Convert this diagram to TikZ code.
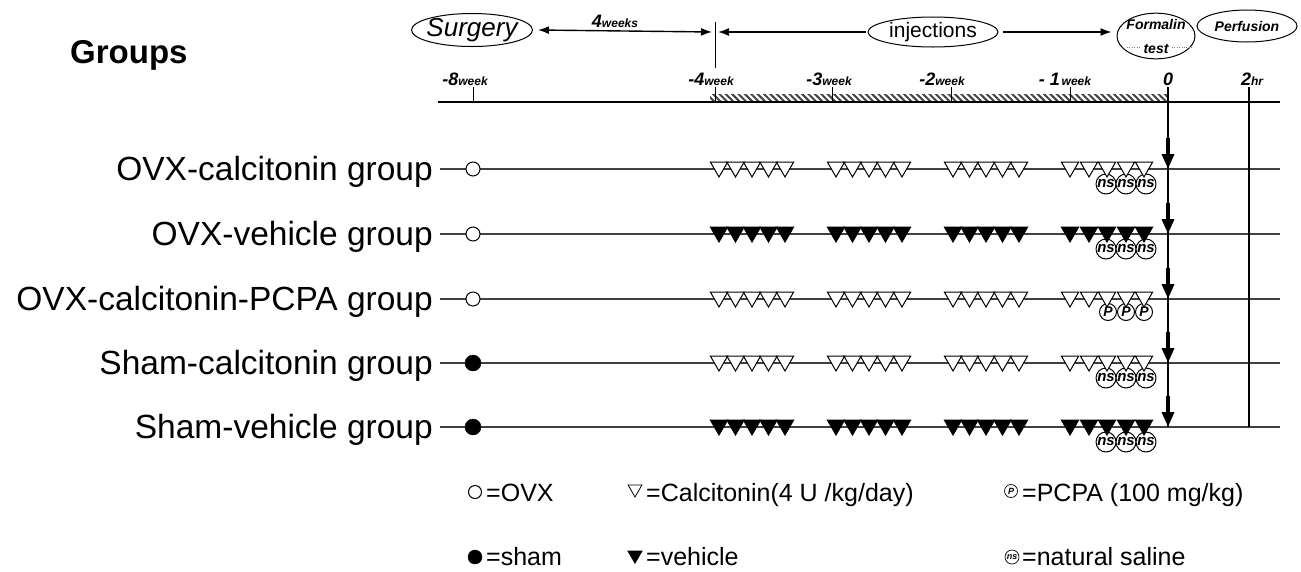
\documentclass[tikz,border=0pt]{standalone}
\usepackage{fontspec}
\setmainfont{Liberation Sans}
\usetikzlibrary{shapes.geometric,arrows.meta,patterns.meta}

\newcommand{\grpfont}{\fontsize{33.5}{36}\selectfont}
\newcommand{\legfont}{\fontsize{25}{28}\selectfont}
\newcommand{\wkbig}{\fontsize{18}{20}\selectfont\bfseries\itshape}
\newcommand{\wksmall}{\fontsize{12}{14}\selectfont\bfseries\itshape}
\newcommand{\ovfont}{\fontsize{14}{24}\selectfont\bfseries\itshape}

\tikzset{
  grp/.style={anchor=base east,inner sep=0,font=\grpfont},
  leg/.style={anchor=base west,inner sep=0,font=\legfont},
  wk/.style={anchor=base,inner sep=0},
  oval/.style={ellipse,draw,line width=1,inner sep=0},
  open/.style={circle,draw,line width=1,fill=white,inner sep=0,minimum size=14},
  shut/.style={circle,draw,fill=black,inner sep=0,minimum size=16},
  tri/.style={regular polygon,regular polygon sides=3,shape border rotate=180,
    draw,line width=1,inner sep=0,minimum size=20},
  nsmark/.style={circle,draw,line width=1,fill=white,inner sep=0,minimum size=20,
    font=\fontsize{15}{15}\selectfont\bfseries\itshape},
  pmark/.style={circle,draw,line width=1,fill=white,inner sep=0,minimum size=17,
    font=\fontsize{14}{14}\selectfont\bfseries\itshape},
  row/.style={line width=1.2,black!75},
  tip/.style={line width=1.4,-{Latex[length=11pt,width=8pt]}},
  both/.style={line width=1.4,{Latex[length=11pt,width=8pt]}-{Latex[length=11pt,width=8pt]}},
  down/.style={line width=3.5,-{Triangle[length=15pt,width=12pt]}}
}

\begin{document}
\begin{tikzpicture}[x=1pt,y=-1pt]
  \useasboundingbox (0,0) rectangle (1301,571);

  % title
  \node[anchor=base west,inner sep=0,font=\fontsize{33}{36}\selectfont\bfseries] (title) at (70,63) {Groups};

  % top: stages
  \node[oval,minimum width=121,minimum height=33,inner xsep=-3,inner ysep=-1,
    font=\fontsize{26}{28}\selectfont\itshape] (surg) at (472,30) {Surgery};
  \node[oval,minimum width=130,minimum height=30,font=\fontsize{21}{23}\selectfont] (inj) at (933,32) {injections};
  \node[oval,minimum width=78,minimum height=45,inner xsep=-3,inner ysep=-1,
    align=center,font=\ovfont] (form) at (1156,36) {Formalin\\test};
  \node[oval,minimum width=100,minimum height=32,font=\ovfont] (perf) at (1247,26) {Perfusion};
  \draw[dotted,gray] (1127,47) -- (1140,47);
  \draw[dotted,gray] (1172,47) -- (1192,47);

  \coordinate (m4t) at (715,22);
  \coordinate (m4) at (715,32);
  \coordinate (m4b) at (715,68);
  \draw[line width=1] (m4t) -- (m4b);
  \draw[both] ([xshift=5]surg.east) -- ([xshift=-3]m4);
  \node[wk] (four) at (615,27) {{\wkbig 4}{\wksmall weeks}};
  \draw[tip] ([xshift=-2]inj.west) -- ([xshift=3]m4);
  \draw[tip] ([xshift=4]inj.east) -- ([xshift=-5]form.west |- inj.east);

  % time axis
  \fill[pattern={Lines[angle=-45,distance=4.5pt,line width=2pt]},pattern color=black!75]
    (710,94) rectangle (1168,101);
  \coordinate (axs) at (438,102);
  \coordinate (axe) at (1280,102);
  \draw[line width=2.5] (axs) -- (axe);
  \foreach \x in {473,715,832,951,1070}
    \draw[line width=1] (\x,87) -- (\x,102);
  \node[wk] (l8) at (465,85) {{\wkbig -8}{\wksmall week}};
  \node[wk] (l4) at (711,85) {{\wkbig -4}{\wksmall week}};
  \node[wk] (l3) at (829,85) {{\wkbig -3}{\wksmall week}};
  \node[wk] (l2) at (942,85) {{\wkbig -2}{\wksmall week}};
  \node[wk] (l1) at (1065,85) {{\wkbig - 1}\,{\wksmall week}};
  \node[wk] (l0) at (1168,85) {\wkbig 0};
  \node[wk] (lh) at (1252,85) {{\wkbig 2}{\wksmall hr}};

  % groups
  \node[grp] (g1) at (433,180) {OVX-calcitonin group};
  \node[grp] (g2) at (433,245) {OVX-vehicle group};
  \node[grp] (g3) at (433,310) {OVX-calcitonin-PCPA group};
  \node[grp] (g4) at (433,374) {Sham-calcitonin group};
  \node[grp] (g5) at (433,438) {Sham-vehicle group};

  \foreach \y [count=\r] in {169,234,299,363,427}{
    \coordinate (b\r) at (440,\y);
    \coordinate (e\r) at (1280,\y);
    \draw[row] (b\r) -- (e\r);
  }

  % test and perfusion lines
  \coordinate (tk0) at (1168,87);
  \coordinate (tk2) at (1249,87);
  \draw[line width=1.2] (tk0) -- (1168,427);
  \draw[line width=1.2] (tk2) -- (1249,427);

  % surgery marks
  \node[open] (s1) at (473,169) {};
  \node[open] (s2) at (473,234) {};
  \node[open] (s3) at (473,299) {};
  \node[shut] (s4) at (473,363) {};
  \node[shut] (s5) at (473,427) {};

  % saline and PCPA
  \foreach \y/\k in {169/1,234/2,363/4,427/5}
    \foreach \x [count=\i] in {1106,1126,1146}
      \node[nsmark] (n\k-\i) at (\x,\y+15) {ns};
  \foreach \x [count=\i] in {1108,1126,1144}
    \node[pmark] (p3-\i) at (\x,312) {P};

  % injections
  \foreach \y/\f [count=\r] in {169/white,234/black,299/white,363/white,427/black}
    \foreach \x [count=\i] in {719,735.5,752,768.5,785,836,852.5,869,885.5,902,
        953,969.5,986,1002.5,1019,1070,1089,1107,1126,1144}
      \node[tri,fill=\f] (t\r-\i) at (\x,\y-2) {};

  % test arrows
  \foreach \y [count=\r] in {169,234,299,363,427}{
    \coordinate (a\r) at (1168,\y-31);
    \coordinate (z\r) at (1168,\y);
    \draw[down] (a\r) -- (z\r);
  }

  % legend
  \node[open,minimum size=13] (kovx) at (475,492) {};
  \node[leg] (tovx) at (486,501) {=OVX};
  \node[shut,minimum size=14] (ksham) at (475,557) {};
  \node[leg] (tsham) at (486,565) {=sham};
  \node[tri,fill=white,minimum size=16,line width=0.8] (kcal) at (635,489) {};
  \node[leg] (tcal) at (646,501) {=Calcitonin(4 U /kg/day)};
  \node[tri,fill=black,minimum size=16] (kveh) at (635,555) {};
  \node[leg] (tveh) at (646,565) {=vehicle};
  \node[pmark,minimum size=13,line width=0.7,font=\fontsize{9}{9}\selectfont\bfseries\itshape] (kp) at (1011,491) {P};
  \node[leg] (tp) at (1022,501) {=PCPA (100 mg/kg)};
  \node[nsmark,minimum size=14,line width=0.7,font=\fontsize{9}{9}\selectfont\bfseries\itshape] (kns) at (1012,557) {ns};
  \node[leg] (tns) at (1022,565) {=natural saline};
\end{tikzpicture}
\end{document}
